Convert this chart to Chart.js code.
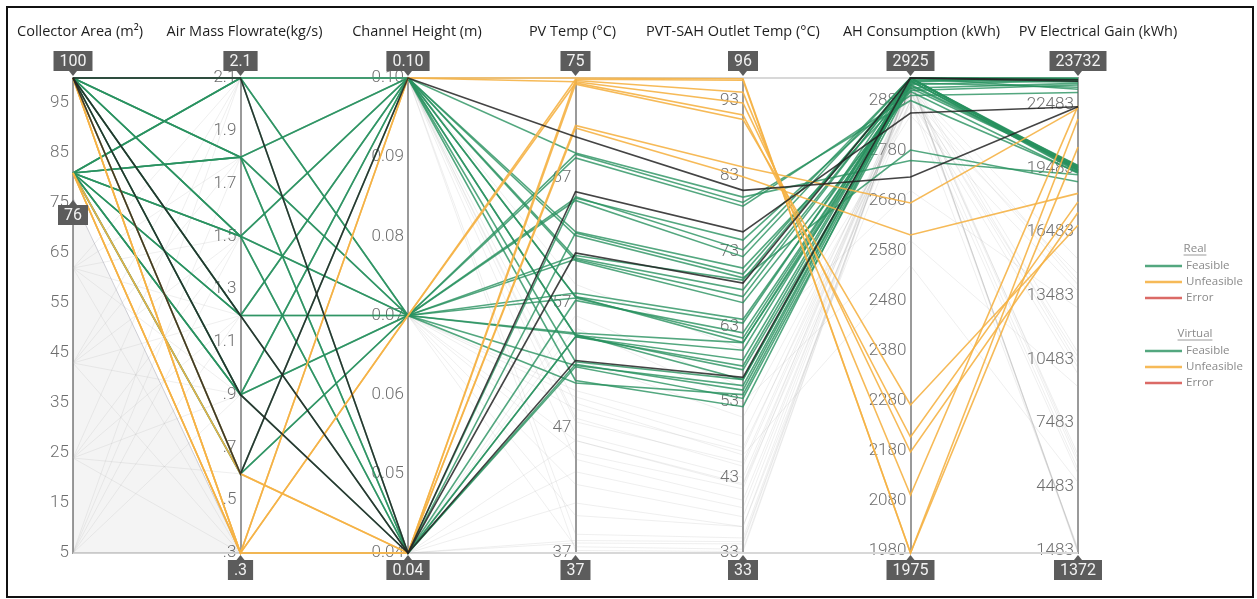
<!DOCTYPE html>
<html lang="en">
<head>
<meta charset="UTF-8">
<title>PVT-SAH parallel coordinates</title>
<style>
  html, body { margin: 0; padding: 0; background: #fff; overflow: hidden; }
  #wrap { position: relative; width: 1257px; height: 599px; }
  #frame { position: absolute; left: 6px; top: 6px; width: 1248px; height: 592px;
           border: 2px solid #111; box-sizing: border-box; pointer-events: none; }
</style>
</head>
<body>
<div id="wrap">
  <canvas id="chart"></canvas>
  <div id="frame"></div>
</div>

<script src="https://cdn.jsdelivr.net/npm/chart.js@4"></script>
<script>
// axes
const axisTitles = ['Collector Area (m²)', 'Air Mass Flowrate(kg/s)', 'Channel Height (m)', 'PV Temp (°C)',
                    'PVT-SAH Outlet Temp (°C)', 'AH Consumption (kWh)', 'PV Electrical Gain (kWh)'];
const axisMin = [5, 0.3, 0.04, 37, 33, 1975, 1372];
const axisMax = [100, 2.1, 0.10, 75, 96, 2925, 23732];
const tickValues = [
  [5, 15, 25, 35, 45, 55, 65, 75, 85, 95],
  [0.3, 0.5, 0.7, 0.9, 1.1, 1.3, 1.5, 1.7, 1.9, 2.1],
  [0.04, 0.05, 0.06, 0.07, 0.08, 0.09, 0.10],
  [37, 47, 57, 67],
  [33, 43, 53, 63, 73, 83, 93],
  [1980, 2080, 2180, 2280, 2380, 2480, 2580, 2680, 2780, 2880],
  [1483, 4483, 7483, 10483, 13483, 16483, 19483, 22483]
];
const tickLabels = [
  ['5', '15', '25', '35', '45', '55', '65', '75', '85', '95'],
  ['.3', '.5', '.7', '.9', '1.1', '1.3', '1.5', '1.7', '1.9', '2.1'],
  ['0.04', '0.05', '0.06', '0.07', '0.08', '0.09', '0.10'],
  ['37', '47', '57', '67'],
  ['33', '43', '53', '63', '73', '83', '93'],
  ['1980', '2080', '2180', '2280', '2380', '2480', '2580', '2680', '2780', '2880'],
  ['1483', '4483', '7483', '10483', '13483', '16483', '19483', '22483']
];
const topLabels = ['100', '2.1', '0.10', '75', '96', '2925', '23732'];
const bottomLabels = ['', '.3', '0.04', '37', '33', '1975', '1372'];
const brushValue = 76;
const brushLabel = '76';
const shadeValues = [76, 0.3];   // collector area -> air mass, filled below

// rows: [area, flow, height, pvTemp, outletTemp, ahKWh, pvKWh]
const highlightRows = [
  [100, 2.1, 0.04, 52.4, 56.3, 2925, 23650],
  [100, 1.2, 0.04, 61.0, 68.8, 2925, 23580],
  [100, 0.9, 0.04, 65.9, 75.6, 2855, 22380],
  [100, 0.6, 0.10, 70.3, 81.1, 2727, 22380]
];
const unfeasibleRows = [
  [100, 0.3, 0.10, 75.0, 95.9, 1975, 20480],
  [100, 0.3, 0.07, 74.9, 95.7, 1975, 21800],
  [100, 0.3, 0.04, 74.8, 94.1, 2091, 22420],
  [81, 0.3, 0.10, 74.7, 92.7, 2177, 17400],
  [81, 0.3, 0.07, 74.6, 91.1, 2207, 17900],
  [81, 0.3, 0.04, 74.5, 90.5, 2271, 16800],
  [100, 0.6, 0.04, 71.2, 84.2, 2675, 22300],
  [81, 0.6, 0.04, 71.0, 82.9, 2611, 18300]
];
const feasibleRows = [
  [100, 1.8, 0.10, 54.4, 59.9, 2925, 23732],
  [100, 1.5, 0.10, 57.5, 63.5, 2925, 23700],
  [100, 1.8, 0.07, 54.6, 60.9, 2918, 23690],
  [100, 1.5, 0.07, 57.8, 64.0, 2912, 23620],
  [100, 1.2, 0.07, 60.8, 69.2, 2925, 23600],
  [100, 0.9, 0.07, 65.4, 74.5, 2905, 23480],
  [100, 1.2, 0.10, 60.6, 67.9, 2920, 23550],
  [100, 0.9, 0.10, 62.7, 70.8, 2900, 23400],
  [100, 2.1, 0.10, 52.3, 56.0, 2925, 23710],
  [100, 2.1, 0.07, 52.0, 55.2, 2922, 23680],
  [100, 1.5, 0.04, 57.2, 62.2, 2915, 23300],
  [100, 1.8, 0.04, 54.3, 58.6, 2925, 23200],
  [100, 0.6, 0.07, 68.6, 79.0, 2890, 23050],
  [81, 2.1, 0.10, 50.8, 52.4, 2925, 19480],
  [81, 2.1, 0.07, 50.6, 54.0, 2920, 19350],
  [81, 1.8, 0.10, 54.4, 57.3, 2912, 19600],
  [81, 1.8, 0.07, 54.5, 56.0, 2925, 19420],
  [81, 1.5, 0.10, 57.5, 60.9, 2905, 19550],
  [81, 1.5, 0.07, 57.4, 61.5, 2920, 19300],
  [81, 1.2, 0.10, 60.4, 66.2, 2898, 19250],
  [81, 1.2, 0.07, 60.5, 67.0, 2925, 19400],
  [81, 0.9, 0.10, 62.4, 69.5, 2781, 18850],
  [81, 0.9, 0.07, 65.2, 72.3, 2925, 19380],
  [81, 0.6, 0.10, 69.0, 80.2, 2760, 19180],
  [81, 0.6, 0.07, 68.9, 79.5, 2880, 19280],
  [81, 1.8, 0.04, 52.1, 54.6, 2925, 19500],
  [81, 1.5, 0.04, 54.3, 57.8, 2925, 19450],
  [81, 2.1, 0.04, 51.9, 53.5, 2910, 19520],
  [81, 1.2, 0.04, 62.6, 70.0, 2918, 19620],
  [81, 0.9, 0.04, 65.5, 73.2, 2925, 19560]
];
const filteredRows = [
  [62, 2.1, 0.10, 47.5, 45.0, 2905, 14200],
  [62, 1.5, 0.07, 50.0, 48.5, 2890, 14000],
  [62, 0.9, 0.04, 56.0, 55.0, 2850, 13700],
  [62, 0.3, 0.10, 58.5, 60.0, 2700, 12900],
  [62, 1.2, 0.04, 52.5, 51.0, 2870, 14500],
  [62, 1.8, 0.07, 48.5, 46.5, 2910, 15200],
  [43, 2.1, 0.07, 45.0, 41.5, 2920, 10300],
  [43, 1.5, 0.10, 46.5, 43.0, 2900, 10100],
  [43, 0.9, 0.07, 49.5, 47.0, 2880, 9800],
  [43, 0.3, 0.04, 55.0, 53.0, 2600, 9200],
  [43, 1.2, 0.10, 47.8, 44.5, 2895, 10600],
  [43, 1.8, 0.04, 46.0, 42.2, 2925, 10800],
  [24, 2.1, 0.04, 41.0, 36.5, 2925, 5800],
  [24, 1.5, 0.07, 42.5, 37.8, 2920, 5600],
  [24, 0.9, 0.10, 44.5, 40.0, 2900, 5300],
  [24, 0.6, 0.07, 46.0, 42.0, 2880, 5100],
  [24, 0.3, 0.10, 49.0, 46.0, 2550, 4700],
  [24, 1.2, 0.04, 43.5, 39.0, 2915, 6000],
  [5, 2.1, 0.07, 37.5, 33.5, 2925, 1483],
  [5, 1.5, 0.04, 37.8, 34.2, 2925, 1420],
  [5, 0.9, 0.10, 38.5, 35.0, 2920, 1372],
  [5, 0.3, 0.07, 40.0, 36.5, 2880, 1600],
  [5, 1.8, 0.10, 37.2, 33.2, 2925, 1450],
  [5, 1.2, 0.04, 38.0, 34.5, 2922, 1500]
];

const legendGroups = ['Real', 'Virtual'];
const legendItems = ['Feasible', 'Unfeasible', 'Error'];

// title centre offsets from each axis line, in px
const titleShift = [7, 4, 9, -3, -10, 11, 20];

const GREEN = 'rgba(40, 145, 95, 0.8)';
const ORANGE = 'rgba(245, 178, 70, 0.9)';
const RED = 'rgba(215, 90, 85, 0.9)';
const DARK = 'rgba(35, 35, 35, 0.85)';
const GREY = 'rgba(165, 165, 165, 0.18)';

// every axis is mapped onto the hidden 0..1 scale "yn"
function norm(k, v) {
  return (v - axisMin[k]) / (axisMax[k] - axisMin[k]);
}

function lineSet(row, color, width) {
  return {
    data: row.map((v, k) => ({ x: k, y: norm(k, v) })),
    borderColor: color,
    borderWidth: width,
    pointRadius: 0,
    fill: false,
    tension: 0,
    clip: 6,
    yAxisID: 'yn'
  };
}

// first dataset ends up on top
const datasets = [];
highlightRows.forEach(r => datasets.push(lineSet(r, DARK, 1.6)));
unfeasibleRows.forEach(r => datasets.push(lineSet(r, ORANGE, 1.6)));
feasibleRows.forEach(r => datasets.push(lineSet(r, GREEN, 1.6)));
filteredRows.forEach(r => datasets.push(lineSet(r, GREY, 1)));
datasets.push({
  data: shadeValues.map((v, k) => ({ x: k, y: norm(k, v) })),
  borderColor: 'rgba(150, 150, 165, 0.45)',
  borderWidth: 1,
  backgroundColor: 'rgba(0, 0, 0, 0.045)',
  fill: 'start',
  pointRadius: 0,
  tension: 0,
  yAxisID: 'yn'
});

const scales = {
  x: { type: 'linear', min: 0, max: 6, display: false },
  yn: { type: 'linear', axis: 'y', min: 0, max: 1, display: false }
};
axisTitles.forEach((t, k) => {
  scales['y' + k] = {
    type: 'linear',
    axis: 'y',
    position: { x: k },
    min: axisMin[k],
    max: axisMax[k],
    afterBuildTicks: s => { s.ticks = tickValues[k].map(v => ({ value: v })); },
    grid: { display: false, drawTicks: false },
    border: { display: true, color: '#9a9a9a', width: 2 },
    ticks: {
      autoSkip: false,
      padding: 4,
      color: '#6e6e6e',
      font: { family: 'Roboto', size: 17, weight: '300' },
      callback: (v, i) => tickLabels[k][i] + ' '
    }
  };
});

function valueBox(ctx, text, cx, tipY, below) {
  ctx.font = '16px Roboto';
  const w = ctx.measureText(text).width + 12;
  const h = 20;
  const top = below ? tipY + 5 : tipY - 5 - h;
  ctx.fillStyle = '#5c5c5c';
  ctx.fillRect(cx - w / 2, top, w, h);
  ctx.beginPath();
  if (below) {
    ctx.moveTo(cx - 4, tipY + 5); ctx.lineTo(cx + 4, tipY + 5); ctx.lineTo(cx, tipY);
  } else {
    ctx.moveTo(cx - 4, tipY - 5); ctx.lineTo(cx + 4, tipY - 5); ctx.lineTo(cx, tipY);
  }
  ctx.fill();
  ctx.fillStyle = '#f2f2f2';
  ctx.textAlign = 'center';
  ctx.textBaseline = 'middle';
  ctx.fillText(text, cx, top + h / 2 + 1);
}

const decor = {
  id: 'decor',
  beforeDatasetsDraw(chart) {
    const { ctx, scales: s } = chart;
    const x0 = s.x.getPixelForValue(0), x6 = s.x.getPixelForValue(6);
    ctx.save();
    ctx.strokeStyle = '#d8d8d8';
    ctx.lineWidth = 2;
    [0, 1].forEach(v => {
      const y = s.yn.getPixelForValue(v);
      ctx.beginPath(); ctx.moveTo(x0, y); ctx.lineTo(x6, y); ctx.stroke();
    });
    ctx.restore();
  },
  afterDraw(chart) {
    const { ctx, scales: s } = chart;
    ctx.save();
    // titles
    ctx.font = '14.5px "Open Sans"';
    ctx.fillStyle = '#1e1e1e';
    ctx.textAlign = 'center';
    ctx.textBaseline = 'middle';
    axisTitles.forEach((t, k) => ctx.fillText(t, s.x.getPixelForValue(k) + titleShift[k], 32));

    // min / max boxes
    axisTitles.forEach((t, k) => {
      const cx = s.x.getPixelForValue(k);
      const sc = s['y' + k];
      valueBox(ctx, topLabels[k], cx, sc.getPixelForValue(axisMax[k]) - 2, false);
      if (bottomLabels[k]) valueBox(ctx, bottomLabels[k], cx, sc.getPixelForValue(axisMin[k]) + 2, true);
    });
    valueBox(ctx, brushLabel, s.x.getPixelForValue(0), s.y0.getPixelForValue(brushValue) + 2, true);

    // legend
    const lx = 1145;
    let y = 249;
    legendGroups.forEach(g => {
      ctx.font = '11.5px "Open Sans"';
      ctx.fillStyle = '#8a8a8a';
      ctx.textAlign = 'center';
      ctx.textBaseline = 'middle';
      const gw = ctx.measureText(g).width;
      const gx = 1195;
      ctx.fillText(g, gx, y);
      ctx.strokeStyle = '#9a9a9a';
      ctx.lineWidth = 1;
      ctx.beginPath(); ctx.moveTo(gx - gw / 2, y + 6); ctx.lineTo(gx + gw / 2, y + 6); ctx.stroke();
      y += 17;
      legendItems.forEach((it, i) => {
        ctx.strokeStyle = [GREEN, ORANGE, RED][i];
        ctx.lineWidth = 2.5;
        ctx.beginPath(); ctx.moveTo(lx, y); ctx.lineTo(lx + 37, y); ctx.stroke();
        ctx.fillStyle = '#8a8a8a';
        ctx.textAlign = 'left';
        ctx.fillText(it, lx + 41, y);
        y += 16;
      });
      y += 20;
    });
    ctx.restore();
  }
};

new Chart(document.getElementById('chart'), {
  type: 'line',
  data: { datasets },
  options: {
    responsive: true,
    maintainAspectRatio: false,
    animation: false,
    layout: { padding: { left: 73, right: 179, top: 78, bottom: 46 } },
    plugins: { legend: { display: false }, tooltip: { enabled: false } },
    scales
  },
  plugins: [decor]
});
</script>
</body>
</html>
